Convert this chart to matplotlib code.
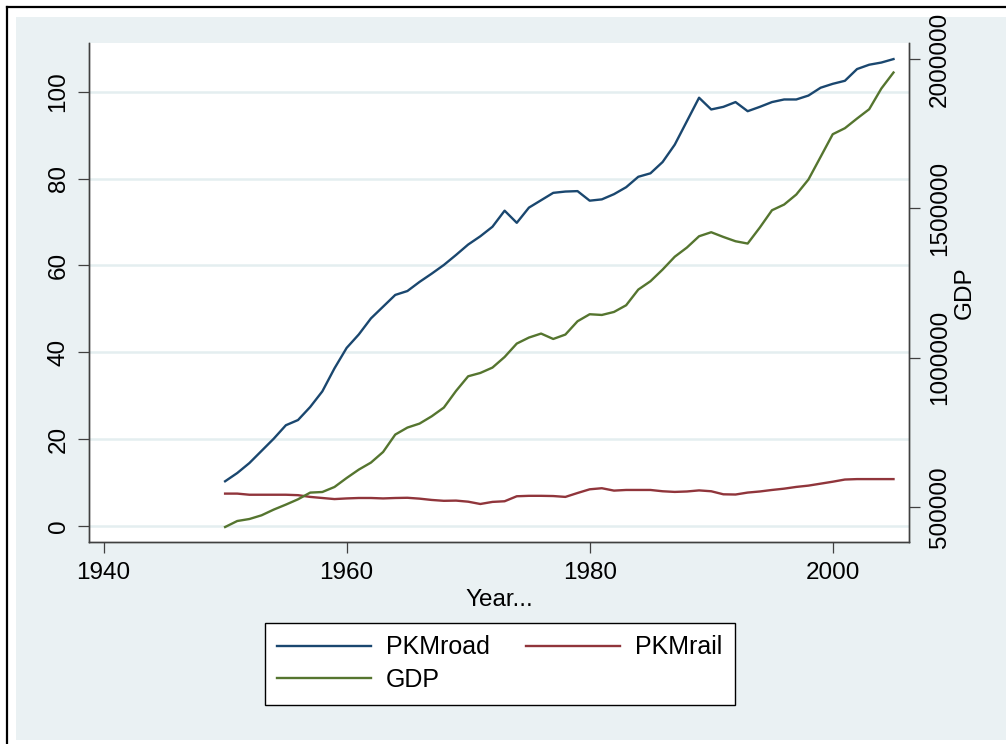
"""Road and rail passenger-km against GDP, Stata-style twin axis chart."""

import matplotlib

matplotlib.use("Agg")
import matplotlib.pyplot as plt
from matplotlib.lines import Line2D
from matplotlib.patches import Rectangle
from matplotlib.ticker import FuncFormatter

plt.rcParams["font.family"] = ["Liberation Sans", "DejaVu Sans"]

years = list(range(1950, 2006))

pkm_road = [
    10.3, 12.2, 14.5, 17.3, 20.1, 23.2, 24.4, 27.4, 31.0, 36.3,
    41.0, 44.1, 47.8, 50.5, 53.2, 54.1, 56.2, 58.1, 60.1, 62.4,
    64.8, 66.7, 68.9, 72.6, 69.8, 73.3, 75.0, 76.7, 77.0, 77.1,
    74.9, 75.2, 76.4, 78.0, 80.4, 81.2, 83.8, 87.8, 93.2, 98.6,
    95.9, 96.5, 97.6, 95.5, 96.5, 97.6, 98.2, 98.2, 99.1, 100.9,
    101.8, 102.5, 105.2, 106.2, 106.7, 107.5,
]

pkm_rail = [
    7.46, 7.46, 7.2, 7.2, 7.2, 7.2, 7.1, 6.7, 6.45, 6.2,
    6.35, 6.45, 6.45, 6.35, 6.45, 6.5, 6.3, 6.0, 5.8, 5.85,
    5.6, 5.07, 5.55, 5.7, 6.85, 6.95, 6.95, 6.9, 6.7, 7.6,
    8.45, 8.7, 8.15, 8.3, 8.3, 8.3, 8.0, 7.85, 7.95, 8.2,
    8.0, 7.3, 7.25, 7.7, 7.95, 8.3, 8.6, 9.0, 9.3, 9.75,
    10.2, 10.7, 10.8, 10.8, 10.8, 10.8,
]

gdp = [
    433000, 453100, 459800, 472200, 491300, 508000, 525800, 548200, 550200, 567000,
    597100, 625200, 648700, 684200, 742500, 765900, 779300, 803700, 832900, 888500,
    937700, 948800, 966800, 1002300, 1047200, 1067300, 1080700, 1062600, 1077400, 1121900,
    1145400, 1143000, 1153100, 1175500, 1228000, 1255900, 1295000, 1338000, 1368700, 1406500,
    1420000, 1404200, 1389800, 1382100, 1435700, 1493600, 1512700, 1546200, 1596500, 1672200,
    1748200, 1768300, 1800700, 1831900, 1901200, 1954800,
]

left_ticks = [0, 20, 40, 60, 80, 100]
right_ticks = [500000, 1000000, 1500000, 2000000]
x_ticks = [1940, 1960, 1980, 2000]

NAVY = "#1A476F"
MAROON = "#90353B"
GREEN = "#55752F"
BG = "#EAF1F3"
AXIS = "#404040"

W, H = 1006, 744
fig = plt.figure(figsize=(W / 100, H / 100), dpi=100, facecolor="white")

# graph region background and outer frame
fig.patches.append(Rectangle((16 / W, 1 - 740 / H), (W - 16) / W, (740 - 17) / H,
                             transform=fig.transFigure, facecolor=BG, edgecolor="none", zorder=-5))
fig.add_artist(Line2D([7 / W, 7 / W], [0, 1 - 7 / H], transform=fig.transFigure, color="black", lw=1.6))
fig.add_artist(Line2D([7 / W, 1], [1 - 7 / H, 1 - 7 / H], transform=fig.transFigure, color="black", lw=1.6))

left, right, top, bottom = 89, 909.3, 43, 542.3
ax = fig.add_axes([left / W, 1 - bottom / H, (right - left) / W, (bottom - top) / H])
ax.set_facecolor("white")
ax2 = ax.twinx()

ax.plot(years, pkm_road, color=NAVY, lw=1.7, zorder=3)
ax.plot(years, pkm_rail, color=MAROON, lw=1.7, zorder=3)
ax2.plot(years, gdp, color=GREEN, lw=1.7, zorder=3)

ax.set_xlim(1938.8, 2006.3)
ax.set_ylim(-3.75, 111.2)
ax2.set_ylim(381800, 2053600)

ax.set_xticks(x_ticks)
ax.set_yticks(left_ticks)
ax2.set_yticks(right_ticks)
ax2.yaxis.set_major_formatter(FuncFormatter(lambda v, p: f"{int(v)}"))

ax.grid(axis="y", color="#E4EEF0", lw=1.8)
ax.set_axisbelow(True)

for a in (ax, ax2):
    a.spines["top"].set_visible(False)
    for s in ("left", "right", "bottom"):
        a.spines[s].set_color(AXIS)
        a.spines[s].set_linewidth(1.0)
    a.tick_params(length=8, width=0.9, color=AXIS, labelsize=17.5, pad=6)

for lab in ax.get_yticklabels():
    lab.set_rotation(90)
    lab.set_verticalalignment("center")
for lab in ax2.get_yticklabels():
    lab.set_rotation(90)
    lab.set_verticalalignment("center")

ax.set_xlabel("Year...", fontsize=17.5, labelpad=4)
ax2.set_ylabel("GDP", fontsize=17.5, labelpad=2)

handles = [
    Line2D([], [], color=NAVY, lw=1.7),
    Line2D([], [], color=GREEN, lw=1.7),
    Line2D([], [], color=MAROON, lw=1.7),
]
labels = ["PKMroad", "GDP", "PKMrail"]
leg = fig.legend(handles, labels, ncol=2, loc="center",
                 bbox_to_anchor=(499.7 / W, 1 - 663.8 / H),
                 fontsize=18, frameon=True, fancybox=False, framealpha=1,
                 handlelength=3.76, handletextpad=0.6, columnspacing=1.45,
                 labelspacing=0.35, borderpad=0.5)
leg.get_frame().set_facecolor("white")
leg.get_frame().set_edgecolor("black")
leg.get_frame().set_linewidth(1.0)

fig.savefig("out.png", dpi=100, facecolor="white")
